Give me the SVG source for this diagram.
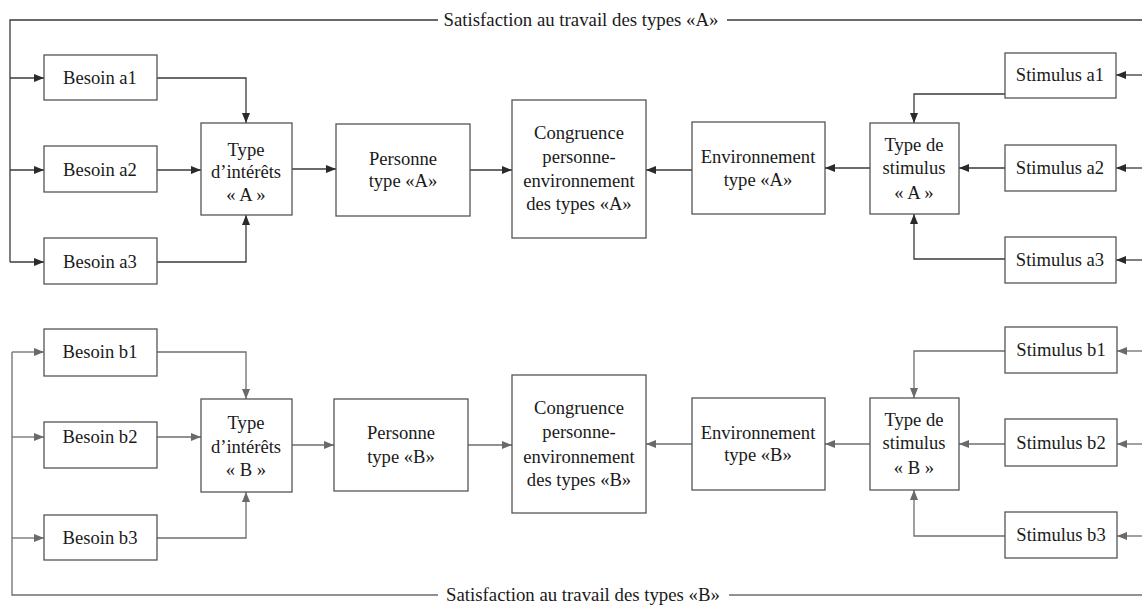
<svg xmlns="http://www.w3.org/2000/svg" width="1142" height="605" viewBox="0 0 1142 605">
  <style>
    .box { fill: #ffffff; stroke: #555555; stroke-width: 1.3; }
    .lbl { font-family: "Liberation Serif", "Times New Roman", serif; font-size: 18.6px; fill: #1a1a1a; text-anchor: middle; }
    .sat { font-family: "Liberation Serif", "Times New Roman", serif; font-size: 18.8px; fill: #1a1a1a; text-anchor: middle; }
    .ca { fill: none; stroke: #3a3a3a; stroke-width: 1.3; }
    .cb { fill: none; stroke: #6e6e6e; stroke-width: 1.3; }
    .ca.arr { marker-end: url(#headA); }
    .cb.arr { marker-end: url(#headB); }
  </style>
  <defs>
    <marker id="headA" markerUnits="userSpaceOnUse" markerWidth="10" markerHeight="8" refX="10" refY="4" orient="auto">
      <path d="M0,0 L10,4 L0,8 z" fill="#2a2a2a"/>
    </marker>
    <marker id="headB" markerUnits="userSpaceOnUse" markerWidth="10" markerHeight="8" refX="10" refY="4" orient="auto">
      <path d="M0,0 L10,4 L0,8 z" fill="#6a6a6a"/>
    </marker>
  </defs>
  <rect width="1142" height="605" fill="#ffffff"/>

  <!-- connectors -->
  <g id="connectors">
    <!-- type A: feedback loop -->
    <path class="ca" d="M438,20 H10 V262"/>
    <path class="ca" d="M727,20 H1142"/>
    <path class="ca arr" d="M10,78 H44"/>
    <path class="ca arr" d="M10,170 H44"/>
    <path class="ca arr" d="M10,262 H44"/>
    <!-- needs to interest type -->
    <path class="ca arr" d="M157,78 H246 V123"/>
    <path class="ca arr" d="M157,170 H201"/>
    <path class="ca arr" d="M157,262 H246 V215"/>
    <path class="ca arr" d="M292,169 H336"/>
    <path class="ca arr" d="M470,170 H512"/>
    <path class="ca arr" d="M692,170 H646"/>
    <path class="ca arr" d="M870,168 H825"/>
    <!-- stimuli to stimulus type -->
    <path class="ca arr" d="M1005,94 H914 V123"/>
    <path class="ca arr" d="M1005,168 H959"/>
    <path class="ca arr" d="M1005,259 H914 V214"/>
    <path class="ca arr" d="M1142,75 H1116"/>
    <path class="ca arr" d="M1142,168 H1116"/>
    <path class="ca arr" d="M1142,260 H1116"/>

    <!-- type B: feedback loop -->
    <path class="cb" d="M438,595 H12 V352"/>
    <path class="cb" d="M729,595 H1142"/>
    <path class="cb arr" d="M12,352 H44"/>
    <path class="cb arr" d="M12,437 H44"/>
    <path class="cb arr" d="M12,538 H44"/>
    <path class="cb arr" d="M157,352 H246 V399"/>
    <path class="cb arr" d="M157,437 H201"/>
    <path class="cb arr" d="M157,538 H246 V492"/>
    <path class="cb arr" d="M292,445 H334"/>
    <path class="cb arr" d="M468,445 H512"/>
    <path class="cb arr" d="M692,444 H646"/>
    <path class="cb arr" d="M870,444 H825"/>
    <path class="cb arr" d="M1005,351 H914 V398"/>
    <path class="cb arr" d="M1005,444 H959"/>
    <path class="cb arr" d="M1005,536 H914 V490"/>
    <path class="cb arr" d="M1142,351 H1117"/>
    <path class="cb arr" d="M1142,444 H1117"/>
    <path class="cb arr" d="M1142,536 H1117"/>
  </g>

  <!-- loop labels -->
  <text id="satisfaction-a" class="sat" x="581" y="26">Satisfaction au travail des types «A»</text>
  <text id="satisfaction-b" class="sat" x="583" y="601">Satisfaction au travail des types «B»</text>

  <!-- type A nodes -->
  <g id="besoin-a1"><rect class="box" x="44" y="55" width="113" height="45"/><text class="lbl" x="100" y="84">Besoin a1</text></g>
  <g id="besoin-a2"><rect class="box" x="44" y="146" width="113" height="46"/><text class="lbl" x="100" y="176">Besoin a2</text></g>
  <g id="besoin-a3"><rect class="box" x="44" y="238" width="113" height="46"/><text class="lbl" x="100" y="268">Besoin a3</text></g>
  <g id="interets-a"><rect class="box" x="201" y="123" width="91" height="92"/>
    <text class="lbl" x="246" y="156">Type</text><text class="lbl" x="246" y="178">d’intérêts</text><text class="lbl" x="246" y="201">« A »</text></g>
  <g id="personne-a"><rect class="box" x="336" y="124" width="134" height="92"/>
    <text class="lbl" x="403" y="165">Personne</text><text class="lbl" x="403" y="187">type «A»</text></g>
  <g id="congruence-a"><rect class="box" x="512" y="100" width="134" height="138"/>
    <text class="lbl" x="579" y="139">Congruence</text><text class="lbl" x="579" y="163">personne-</text><text class="lbl" x="579" y="187">environnement</text><text class="lbl" x="579" y="210">des types «A»</text></g>
  <g id="environnement-a"><rect class="box" x="692" y="122" width="133" height="92"/>
    <text class="lbl" x="758" y="163">Environnement</text><text class="lbl" x="758" y="186">type «A»</text></g>
  <g id="stimulus-type-a"><rect class="box" x="870" y="123" width="89" height="91"/>
    <text class="lbl" x="914" y="151">Type de</text><text class="lbl" x="914" y="174">stimulus</text><text class="lbl" x="914" y="199">« A »</text></g>
  <g id="stimulus-a1"><rect class="box" x="1005" y="53" width="111" height="45"/><text class="lbl" x="1060" y="81">Stimulus a1</text></g>
  <g id="stimulus-a2"><rect class="box" x="1005" y="145" width="111" height="46"/><text class="lbl" x="1060" y="174">Stimulus a2</text></g>
  <g id="stimulus-a3"><rect class="box" x="1005" y="237" width="111" height="46"/><text class="lbl" x="1060" y="266">Stimulus a3</text></g>

  <!-- type B nodes -->
  <g id="besoin-b1"><rect class="box" x="44" y="329" width="113" height="47"/><text class="lbl" x="100" y="358">Besoin b1</text></g>
  <g id="besoin-b2"><rect class="box" x="44" y="422" width="113" height="46"/><text class="lbl" x="100" y="443">Besoin b2</text></g>
  <g id="besoin-b3"><rect class="box" x="44" y="515" width="113" height="45"/><text class="lbl" x="100" y="544">Besoin b3</text></g>
  <g id="interets-b"><rect class="box" x="201" y="399" width="91" height="93"/>
    <text class="lbl" x="246" y="429">Type</text><text class="lbl" x="246" y="453">d’intérêts</text><text class="lbl" x="246" y="476">« B »</text></g>
  <g id="personne-b"><rect class="box" x="334" y="399" width="134" height="92"/>
    <text class="lbl" x="401" y="439">Personne</text><text class="lbl" x="401" y="463">type «B»</text></g>
  <g id="congruence-b"><rect class="box" x="512" y="375" width="134" height="138"/>
    <text class="lbl" x="579" y="414">Congruence</text><text class="lbl" x="579" y="438">personne-</text><text class="lbl" x="579" y="463">environnement</text><text class="lbl" x="579" y="486">des types «B»</text></g>
  <g id="environnement-b"><rect class="box" x="692" y="398" width="133" height="92"/>
    <text class="lbl" x="758" y="439">Environnement</text><text class="lbl" x="758" y="461">type «B»</text></g>
  <g id="stimulus-type-b"><rect class="box" x="870" y="398" width="89" height="92"/>
    <text class="lbl" x="914" y="426">Type de</text><text class="lbl" x="914" y="449">stimulus</text><text class="lbl" x="914" y="474">« B »</text></g>
  <g id="stimulus-b1"><rect class="box" x="1005" y="327" width="112" height="46"/><text class="lbl" x="1061" y="356">Stimulus b1</text></g>
  <g id="stimulus-b2"><rect class="box" x="1005" y="419" width="112" height="47"/><text class="lbl" x="1061" y="449">Stimulus b2</text></g>
  <g id="stimulus-b3"><rect class="box" x="1005" y="512" width="112" height="46"/><text class="lbl" x="1061" y="541">Stimulus b3</text></g>
</svg>
